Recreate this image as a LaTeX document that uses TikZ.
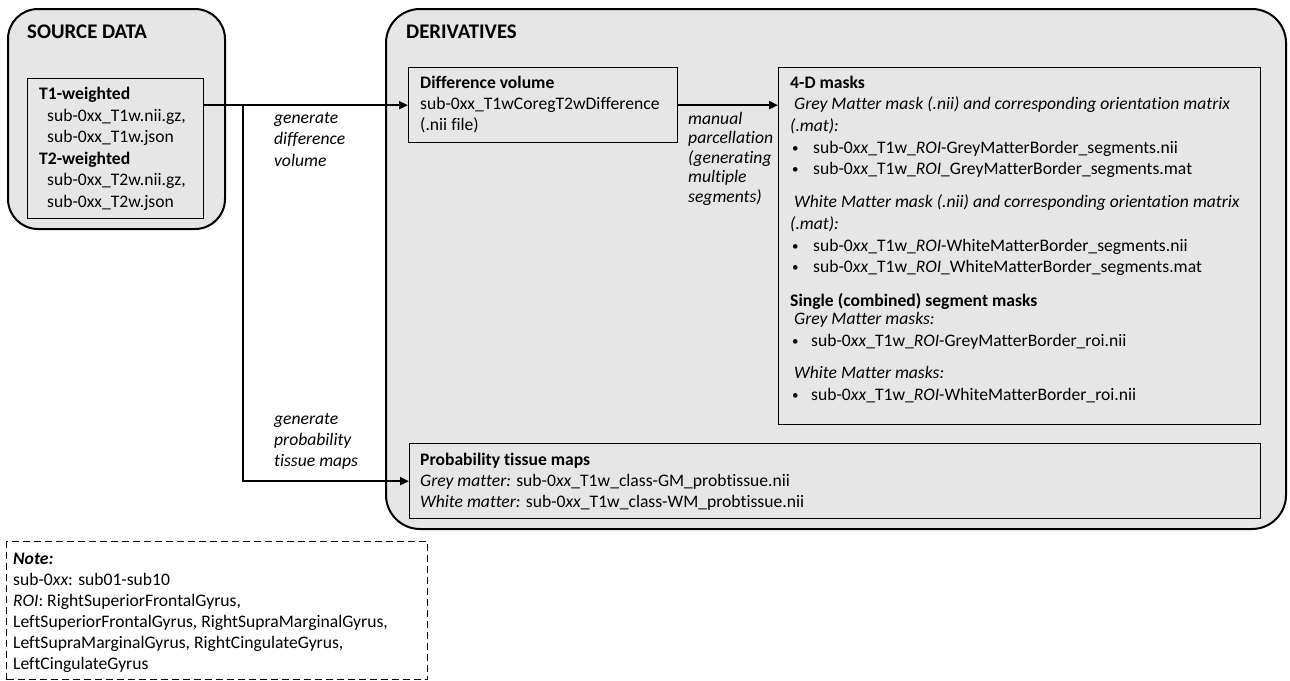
\documentclass[tikz,border=0pt]{standalone}
\usepackage{fontspec}
\setmainfont{Carlito}[Ligatures=NoCommon]
\usetikzlibrary{arrows.meta}
\definecolor{boxgrey}{RGB}{230,230,230}
\begin{document}
\begin{tikzpicture}[x=1pt,y=-1pt,
  outer/.style={draw=black, line width=2pt, fill=boxgrey, rounded corners=#1, anchor=north west, inner sep=0pt},
  inner/.style={draw=black, line width=1.3pt, fill=boxgrey, anchor=north west, inner sep=0pt},
  txt/.style={anchor=base west, inner sep=0pt, font=\fontsize{17.6}{21}\selectfont},
  bul/.style={anchor=base west, inner sep=0pt, font=\fontsize{13}{13}\selectfont},
  hd/.style={anchor=base west, inner sep=0pt, font=\fontsize{20.8}{24}\selectfont\bfseries},
  lab/.style={anchor=base west, inner sep=0pt, font=\fontsize{17.6}{21}\selectfont\itshape},
  arr/.style={line width=2pt, -{Triangle[length=9pt,width=8pt]}},
  notebox/.style={draw=black, line width=1pt, dash pattern=on 7pt off 4pt, fill=white, anchor=north west, inner sep=0pt}
]
\useasboundingbox (0,0) rectangle (1290,680);

% boxes
\node[outer=30pt, minimum width=217pt, minimum height=220pt] (src) at (7,8) {};
\node[inner, minimum width=176pt, minimum height=140pt] (t1) at (27,78) {};
\node[outer=34pt, minimum width=900pt, minimum height=520pt] (der) at (385,8) {};
\node[inner, minimum width=269pt, minimum height=75pt] (diff) at (408,67) {};
\node[inner, minimum width=482pt, minimum height=357pt] (fourd) at (778,67) {};
\node[inner, minimum width=851pt, minimum height=75pt] (prob) at (409,443) {};
\node[notebox, minimum width=421pt, minimum height=138pt] (note) at (6,541) {};

% source data text
\node[hd] (srch) at (27,38) {SOURCE DATA};
\node[txt] (s1) at (39,99.5) {\textbf{T1-weighted}};
\node[txt] (s2) at (47,121) {sub-0xx\_T1w.nii.gz,};
\node[txt] (s3) at (47,142.5) {sub-0xx\_T1w.json};
\node[txt] (s4) at (39,164) {\textbf{T2-weighted}};
\node[txt] (s5) at (47,185.5) {sub-0xx\_T2w.nii.gz,};
\node[txt] (s6) at (47,207) {sub-0xx\_T2w.json};

% derivatives
\node[hd] (derh) at (406,38) {DERIVATIVES};
\node[txt] (d1) at (420,88) {\textbf{Difference volume}};
\node[txt] (d2) at (420,109) {sub-0xx\_T1wCoregT2wDifference};
\node[txt] (d3) at (420,130) {(.nii file)};

% 4-D masks
\node[txt] (m1) at (790,88) {\textbf{4-D masks}};
\node[txt] (m2) at (794,109) {\textit{Grey Matter mask (.nii) and corresponding orientation matrix}};
\node[txt] (m3) at (790,131) {\textit{(.mat):}};
\node[bul] (b1) at (792,152) {\textbullet};
\node[txt] (m4) at (813,153) {sub-0\textit{xx}\_T1w\_\textit{ROI}-GreyMatterBorder\_segments.nii};
\node[bul] (b2) at (792,173) {\textbullet};
\node[txt] (m5) at (813,174) {sub-0\textit{xx}\_T1w\_\textit{ROI}\_GreyMatterBorder\_segments.mat};
\node[txt] (m6) at (794,207) {\textit{White Matter mask (.nii) and corresponding orientation matrix}};
\node[txt] (m7) at (790,229) {\textit{(.mat):}};
\node[bul] (b3) at (792,250) {\textbullet};
\node[txt] (m8) at (813,251) {sub-0\textit{xx}\_T1w\_\textit{ROI}-WhiteMatterBorder\_segments.nii};
\node[bul] (b4) at (792,271) {\textbullet};
\node[txt] (m9) at (813,272) {sub-0\textit{xx}\_T1w\_\textit{ROI}\_WhiteMatterBorder\_segments.mat};
\node[txt] (m10) at (790,306) {\textbf{Single (combined) segment masks}};
\node[txt] (m11) at (794,324) {\textit{Grey Matter masks:}};
\node[bul] (b5) at (792,345) {\textbullet};
\node[txt] (m12) at (811,346) {sub-0\textit{xx}\_T1w\_\textit{ROI}-GreyMatterBorder\_roi.nii};
\node[txt] (m13) at (794,378) {\textit{White Matter masks:}};
\node[bul] (b6) at (792,399) {\textbullet};
\node[txt] (m14) at (811,400) {sub-0\textit{xx}\_T1w\_\textit{ROI}-WhiteMatterBorder\_roi.nii};

% probability
\node[txt] (p1) at (420,465) {\textbf{Probability tissue maps}};
\node[txt] (p2) at (420,486) {\textit{Grey matter:} sub-0\textit{xx}\_T1w\_class-GM\_probtissue.nii};
\node[txt] (p3) at (420,507) {\textit{White matter:} sub-0\textit{xx}\_T1w\_class-WM\_probtissue.nii};

% note
\node[txt] (n1) at (13,564) {\textbf{\textit{Note:}}};
\node[txt] (n2) at (13,585) {sub-0\textit{xx}: sub01-sub10};
\node[txt] (n3) at (13,606) {\textit{ROI}: RightSuperiorFrontalGyrus,};
\node[txt] (n4) at (13,627) {LeftSuperiorFrontalGyrus, RightSupraMarginalGyrus,};
\node[txt] (n5) at (13,648) {LeftSupraMarginalGyrus, RightCingulateGyrus,};
\node[txt] (n6) at (13,669) {LeftCingulateGyrus};

% arrow labels
\node[lab] (g1) at (274,123) {generate};
\node[lab] (g2) at (274,144.5) {difference};
\node[lab] (g3) at (274,166) {volume};
\node[lab] (q1) at (274,424) {generate};
\node[lab] (q2) at (274,445) {probability};
\node[lab] (q3) at (274,466) {tissue maps};
\node[lab] (r1) at (688,124) {manual};
\node[lab] (r2) at (688,143.5) {parcellation};
\node[lab] (r3) at (688,163) {(generating};
\node[lab] (r4) at (688,182.5) {multiple};
\node[lab] (r5) at (688,202) {segments)};

% connectors
\draw[arr] (t1.east |- diff.west) -- (diff.west);
\path (t1.east |- diff.west) ++(39,0) coordinate (br);
\draw[arr] (br) |- (prob.west);
\draw[arr] (diff.east) -- (fourd.west |- diff.east);
\end{tikzpicture}
\end{document}
